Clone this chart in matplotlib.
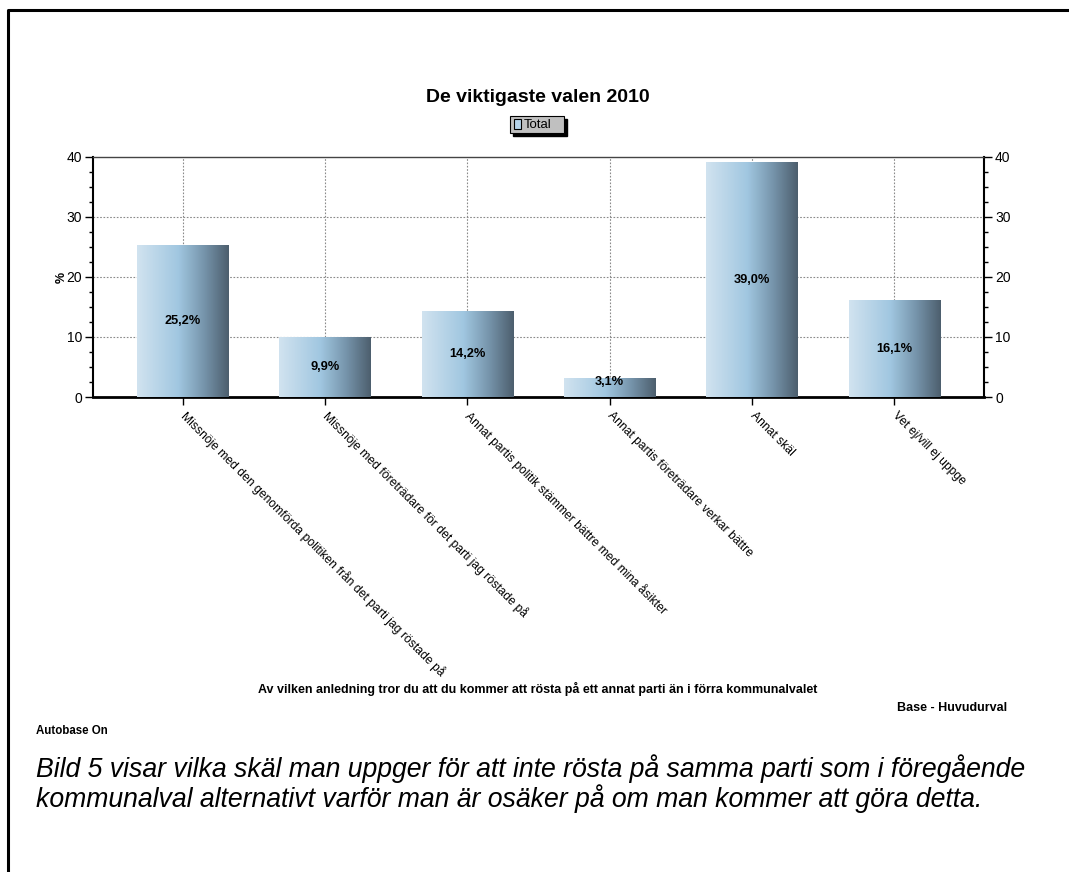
import numpy as np
import matplotlib
matplotlib.use("Agg")
import matplotlib.pyplot as plt
from matplotlib.colors import LinearSegmentedColormap
from matplotlib.patches import Rectangle
from matplotlib.lines import Line2D
from matplotlib.ticker import MultipleLocator

plt.rcParams['font.family'] = ['Liberation Sans', 'DejaVu Sans']

categories = [
    "Missnöje med den genomförda politiken från det parti jag röstade på",
    "Missnöje med företrädare för det parti jag röstade på",
    "Annat partis politik stämmer bättre med mina åsikter",
    "Annat partis företrädare verkar bättre",
    "Annat skäl",
    "Vet ej/vill ej uppge",
]
values = [25.2, 9.9, 14.2, 3.1, 39.0, 16.1]
value_labels = ["25,2%", "9,9%", "14,2%", "3,1%", "39,0%", "16,1%"]
yticks = [0, 10, 20, 30, 40]
title = "De viktigaste valen 2010"
legend_label = "Total"
xlabel = "Av vilken anledning tror du att du kommer att rösta på ett annat parti än i förra kommunalvalet"
base_text = "Base - Huvudurval"
autobase_text = "Autobase On"
caption = ("Bild 5 visar vilka skäl man uppger för att inte rösta på samma parti som i föregående\n"
           "kommunalval alternativt varför man är osäker på om man kommer att göra detta.")

W, H = 1069, 872
fig = plt.figure(figsize=(W / 100, H / 100), dpi=100)

# outer frame
fig.add_artist(Line2D([8 / W, 8 / W, 1.0], [0.0, 1 - 10 / H, 1 - 10 / H],
                      transform=fig.transFigure, color='black', lw=2.2))

ax = fig.add_axes([93 / W, 1 - 397 / H, (984 - 93) / W, (397 - 157) / H])
x = np.arange(len(categories))

cmap = LinearSegmentedColormap.from_list("grad", [
    (0.0, (0.82, 0.89, 0.94)),
    (0.45, (0.63, 0.78, 0.88)),
    (0.72, (0.47, 0.59, 0.68)),
    (1.0, (0.30, 0.37, 0.43)),
])
grad = np.linspace(0, 1, 256).reshape(1, -1)

bars = ax.bar(x, values, width=0.64, color='none', edgecolor='none', zorder=3)
for b, lab in zip(bars, value_labels):
    x0, w, h = b.get_x(), b.get_width(), b.get_height()
    ax.imshow(grad, cmap=cmap, aspect='auto', extent=[x0, x0 + w, 0, h],
              zorder=3, interpolation='bilinear')
    ax.text(x0 + w / 2, max(h / 2, 2.5), lab, ha='center', va='center',
            fontsize=9.2, fontweight='bold', zorder=5)
ax.set_xlim(-0.63, len(categories) - 1 + 0.63)
ax.set_ylim(0, 40)

# grid
for yv in yticks[1:-1]:
    ax.axhline(yv, color='#8a8a8a', lw=0.8, ls=(0, (1.5, 1.5)), zorder=1)
for xv in x:
    ax.axvline(xv, color='#8a8a8a', lw=0.8, ls=(0, (1.5, 1.5)), zorder=1)

ax.spines['top'].set_color('#444444')
ax.spines['top'].set_linewidth(1.0)
ax.spines['bottom'].set_linewidth(2.0)
ax.spines['left'].set_linewidth(1.5)
ax.spines['right'].set_linewidth(1.5)

ax.set_yticks(yticks)
ax.yaxis.set_minor_locator(MultipleLocator(2.5))
ax.tick_params(axis='y', which='major', length=6, width=1, labelsize=10, direction='out', pad=2)
ax.tick_params(axis='y', which='minor', length=3, width=1, direction='out')
ax.set_ylabel('%', fontsize=9, fontweight='bold', labelpad=-1)

ax.set_xticks(x)
ax.set_xticklabels(categories, rotation=-45, ha='left', va='center',
                   rotation_mode='anchor', fontsize=8.7)
ax.tick_params(axis='x', which='major', length=6, width=1, pad=6)

ax2 = ax.twinx()
ax2.set_ylim(0, 40)
ax2.set_yticks(yticks)
ax2.yaxis.set_minor_locator(MultipleLocator(2.5))
ax2.tick_params(axis='y', which='major', length=6, width=1, labelsize=10, direction='out', pad=2)
ax2.tick_params(axis='y', which='minor', length=3, width=1, direction='out')
for s in ax2.spines.values():
    s.set_visible(False)

# title
fig.text(538 / W, 1 - 97 / H, title, ha='center', va='center', fontsize=14, fontweight='bold')

# legend (manual, with shadow)
lx0, ly0, lw_, lh_ = 510, 116, 54, 17
fig.add_artist(Rectangle(((lx0 + 3) / W, 1 - (ly0 + lh_ + 3) / H), lw_ / W, lh_ / H,
                         transform=fig.transFigure, facecolor='black', edgecolor='black'))
fig.add_artist(Rectangle((lx0 / W, 1 - (ly0 + lh_) / H), lw_ / W, lh_ / H,
                         transform=fig.transFigure, facecolor='#c0c0c0', edgecolor='black', lw=0.8))
fig.add_artist(Rectangle(((lx0 + 4) / W, 1 - (ly0 + 13) / H), 7 / W, 10 / H,
                         transform=fig.transFigure, facecolor='#b5d3ea', edgecolor='black', lw=0.8))
fig.text((lx0 + 14) / W, 1 - (ly0 + lh_ / 2 + 0.5) / H, legend_label, ha='left', va='center', fontsize=9.5)

# footer texts
fig.text(538 / W, 1 - 689 / H, xlabel, ha='center', va='center', fontsize=9, fontweight='bold')
fig.text(1007 / W, 1 - 708 / H, base_text, ha='right', va='center', fontsize=9, fontweight='bold')
fig.text(36 / W, 1 - 731 / H, autobase_text, ha='left', va='center', fontsize=8.3, fontweight='bold')
fig.text(36 / W, 1 - 784 / H, caption, ha='left', va='center', fontsize=19.2,
         fontstyle='italic', linespacing=1.05)

fig.savefig('out.png', dpi=100)
